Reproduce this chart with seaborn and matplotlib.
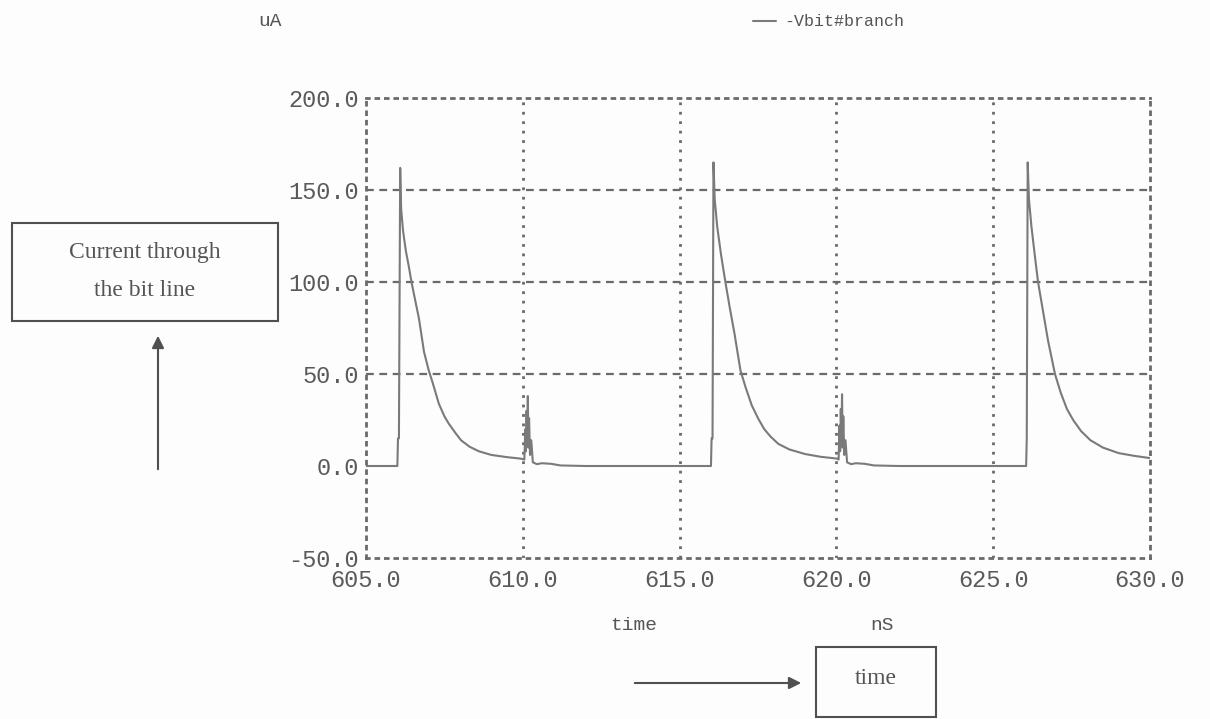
import pandas as pd
import matplotlib.pyplot as plt
import matplotlib.patches as patches
from matplotlib.font_manager import FontProperties
import seaborn as sns

# Values (time in nS, current in uA)
t_period1 = [605.0, 606.0, 606.02, 606.05, 606.09, 606.12, 606.18, 606.27, 606.37,
             606.45, 606.57, 606.69, 606.85, 607.0, 607.13, 607.32, 607.5, 607.64,
             607.85, 608.03, 608.3, 608.6, 609.0, 609.5, 609.94]
i_period1 = [0.0, 0.0, 15.0, 15.0, 162.0, 140.0, 128.0, 117.0, 108.0,
             100.0, 90.0, 80.0, 62.0, 52.0, 45.0, 34.0, 27.0, 23.0,
             18.0, 14.0, 10.5, 8.0, 6.0, 4.8, 4.0]

t_ring1 = [610.05, 610.08, 610.1, 610.12, 610.14, 610.16, 610.18, 610.2, 610.23,
           610.27, 610.32, 610.45, 610.6, 610.9, 611.2, 612.0, 616.0]
i_ring1 = [3.5, 20.0, 8.0, 30.0, 12.0, 38.0, 10.0, 26.0, 6.0,
           14.0, 2.0, 1.0, 1.5, 1.2, 0.3, 0.0, 0.0]

t_period2 = [616.02, 616.05, 616.08, 616.12, 616.2, 616.32, 616.46, 616.6, 616.75,
             616.94, 617.1, 617.3, 617.5, 617.7, 617.9, 618.15, 618.5, 619.0,
             619.5, 620.03]
i_period2 = [15.0, 15.0, 165.0, 145.0, 130.0, 115.0, 100.0, 86.0, 72.0,
             52.0, 43.0, 33.0, 26.0, 20.0, 16.0, 12.0, 9.0, 6.5,
             5.0, 4.0]

t_ring2 = [620.07, 620.1, 620.12, 620.14, 620.16, 620.18, 620.2, 620.22, 620.25,
           620.29, 620.34, 620.47, 620.62, 620.9, 621.2, 622.0, 626.05]
i_ring2 = [3.5, 22.0, 8.0, 31.0, 12.0, 39.0, 10.0, 27.0, 6.0,
           14.0, 2.0, 1.0, 1.5, 1.2, 0.3, 0.0, 0.0]

t_period3 = [626.07, 626.1, 626.14, 626.22, 626.33, 626.43, 626.57, 626.75, 626.97,
             627.15, 627.35, 627.55, 627.8, 628.1, 628.5, 629.0, 629.5, 630.0]
i_period3 = [15.0, 165.0, 145.0, 130.0, 114.0, 100.0, 86.0, 68.0, 50.0,
             40.0, 31.0, 25.0, 19.0, 14.0, 10.0, 7.0, 5.5, 4.3]

x_ticks = [605.0, 610.0, 615.0, 620.0, 625.0, 630.0]
y_ticks = [-50.0, 0.0, 50.0, 100.0, 150.0, 200.0]

df = pd.DataFrame({
    'time': t_period1 + t_ring1 + t_period2 + t_ring2 + t_period3,
    'current': i_period1 + i_ring1 + i_period2 + i_ring2 + i_period3,
})

sns.set_style('white')
plt.rcParams['font.family'] = ['Liberation Mono', 'DejaVu Sans Mono']

W, H = 1210, 719
fig = plt.figure(figsize=(W / 100, H / 100), dpi=100, facecolor='#fdfdfd')


def fx(px):
    return px / W


def fy(py):
    return 1 - py / H


ax = fig.add_axes([fx(366), fy(558), fx(1150) - fx(366), fy(98) - fy(558)])
ax.set_facecolor('#fdfdfd')

sns.lineplot(data=df, x='time', y='current', sort=False, estimator=None,
             color='#7a7a7a', linewidth=1.5, label='-Vbit#branch', ax=ax)

ax.set_xlim(605, 630)
ax.set_ylim(-50, 200)
ax.set_xticks(x_ticks)
ax.set_yticks(y_ticks)
ax.set_xticklabels([f'{v:.1f}' for v in x_ticks])
ax.set_yticklabels([f'{v:.1f}' for v in y_ticks])
ax.set_xlabel('')
ax.set_ylabel('')
ax.tick_params(length=0, labelsize=17, labelcolor='#5a5a5a', pad=5)
ax.tick_params(axis='x', pad=8)

grid_c = '#6a6a6a'
for x in x_ticks[1:-1]:
    ax.axvline(x, color=grid_c, lw=2, linestyle=(0, (1, 2.4)), zorder=0)
for y in [50.0, 100.0, 150.0]:
    ax.axhline(y, color=grid_c, lw=1.6, linestyle=(0, (3.5, 2.5)), zorder=0)
for s in ax.spines.values():
    s.set_color(grid_c)
    s.set_linewidth(2)
    s.set_linestyle((0, (1, 2.4)))

ax.legend(loc='center left', bbox_to_anchor=(fx(738), fy(22)),
          bbox_transform=fig.transFigure, frameon=False, handlelength=1.4,
          handletextpad=0.5, labelcolor='#555555',
          prop=FontProperties(family='Liberation Mono', size=12))

txt = dict(color='#555555', fontsize=14, ha='center', va='center')
fig.text(fx(270), fy(22), 'uA', **txt)
fig.text(fx(634), fy(626), 'time', **txt)
fig.text(fx(882), fy(626), 'nS', **txt)

# annotation boxes and arrows
box_c = '#505050'
fig.add_artist(patches.Rectangle((fx(12), fy(321)), fx(278) - fx(12), fy(223) - fy(321),
                                 transform=fig.transFigure, fill=False, ec=box_c, lw=1.5))
fig.text(fx(145), fy(253), 'Current through', family='Liberation Serif',
         fontsize=17, color='#555555', ha='center', va='center')
fig.text(fx(145), fy(290), 'the bit line', family='Liberation Serif',
         fontsize=17, color='#555555', ha='center', va='center')

fig.add_artist(patches.Rectangle((fx(816), fy(717)), fx(936) - fx(816), fy(647) - fy(717),
                                 transform=fig.transFigure, fill=False, ec=box_c, lw=1.5))
fig.text(fx(876), fy(679), 'time', family='Liberation Serif',
         fontsize=17, color='#555555', ha='center', va='center')

fig.add_artist(patches.FancyArrowPatch((fx(158), fy(472)), (fx(158), fy(333)),
                                       transform=fig.transFigure, arrowstyle='-|>',
                                       mutation_scale=18, color=box_c, lw=1.5))
fig.add_artist(patches.FancyArrowPatch((fx(632), fy(683)), (fx(804), fy(683)),
                                       transform=fig.transFigure, arrowstyle='-|>',
                                       mutation_scale=18, color=box_c, lw=1.5))

fig.savefig('out.png', dpi=100, facecolor=fig.get_facecolor())
